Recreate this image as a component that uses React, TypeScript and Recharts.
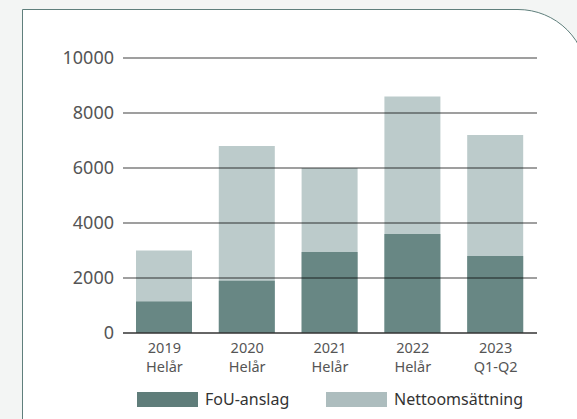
import React from 'react';
import { BarChart, Bar, XAxis, YAxis, ReferenceLine } from 'recharts';

const years = ['2019', '2020', '2021', '2022', '2023'];
const periods = ['Helår', 'Helår', 'Helår', 'Helår', 'Q1-Q2'];
const fouAnslag = [1150, 1900, 2950, 3600, 2800];
const nettoomsattning = [3000, 6800, 6000, 8600, 7200];
const yTicks = [0, 2000, 4000, 6000, 8000, 10000];

const data = years.map((y, i) => ({
  year: y,
  period: periods[i],
  fou: fouAnslag[i],
  netto: nettoomsattning[i],
}));

const FONT = '"Noto Sans", sans-serif';
const DARK = '#688784';
const LIGHT = '#bccbcb';

const XTick = (props: any) => {
  const { x, y, payload, index } = props;
  return (
    <g>
      <text x={x} y={y + 20} textAnchor="middle" fill="#555" fontSize={14.5} fontFamily={FONT}>
        {payload.value}
      </text>
      <text x={x} y={y + 39} textAnchor="middle" fill="#555" fontSize={14.5} fontFamily={FONT}>
        {periods[index]}
      </text>
    </g>
  );
};

export default function App() {
  return (
    <div
      style={{
        position: 'absolute',
        left: 0,
        top: 0,
        width: 577,
        height: 419,
        overflow: 'hidden',
        background: '#f3f5f4',
      }}
    >
      <div
        style={{
          position: 'absolute',
          left: 22,
          top: 9,
          width: 566,
          height: 440,
          boxSizing: 'border-box',
          border: '1.5px solid #5f7f7c',
          borderTopRightRadius: 70,
          background: '#ffffff',
        }}
      />
      <div style={{ position: 'absolute', left: 0, top: 0 }}>
        <BarChart
          width={577}
          height={419}
          data={data}
          margin={{ top: 58, right: 40, bottom: 36, left: 0 }}
          barGap={-56}
          barCategoryGap={0}
        >
          <XAxis
            dataKey="year"
            height={50}
            axisLine={false}
            tickLine={false}
            tickSize={0}
            tickMargin={0}
            interval={0}
            tick={<XTick />}
          />
          <YAxis
            width={123}
            domain={[0, 10000]}
            ticks={yTicks}
            axisLine={false}
            tickLine={false}
            tickSize={0}
            tickMargin={9}
            tick={{ fill: '#555', fontSize: 18, fontFamily: FONT }}
          />
          <Bar dataKey="netto" fill={LIGHT} barSize={56} isAnimationActive={false} />
          <Bar dataKey="fou" fill={DARK} barSize={56} isAnimationActive={false} />
          {yTicks.map((t) => (
            <ReferenceLine
              key={t}
              y={t}
              stroke={t === 0 ? '#333' : '#000'}
              strokeOpacity={t === 0 ? 1 : 0.5}
              strokeWidth={1.5}
            />
          ))}
        </BarChart>
      </div>
      <div style={{ position: 'absolute', left: 137, top: 392, width: 61, height: 15, background: '#5f7d7a' }} />
      <div
        style={{
          position: 'absolute',
          left: 205,
          top: 388,
          fontFamily: FONT,
          fontSize: 16,
          lineHeight: '22px',
          color: '#333',
          whiteSpace: 'nowrap',
        }}
      >
        FoU-anslag
      </div>
      <div style={{ position: 'absolute', left: 326, top: 392, width: 61, height: 15, background: '#adbdbe' }} />
      <div
        style={{
          position: 'absolute',
          left: 394,
          top: 388,
          fontFamily: FONT,
          fontSize: 16,
          lineHeight: '22px',
          color: '#333',
          whiteSpace: 'nowrap',
        }}
      >
        Nettoomsättning
      </div>
    </div>
  );
}
